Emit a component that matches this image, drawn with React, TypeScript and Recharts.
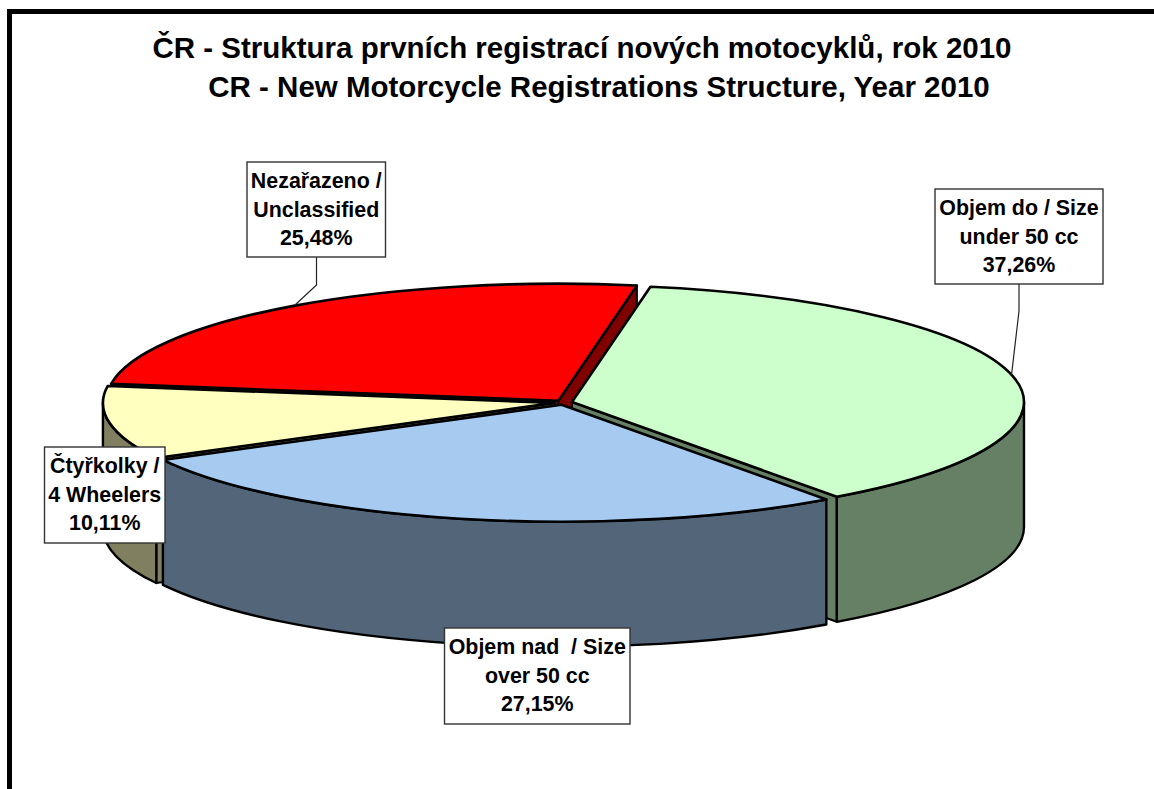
import React from 'react';
import { PieChart, Pie } from 'recharts';

const categories = ['Objem do / Size under 50 cc', 'Objem nad  / Size over 50 cc', 'Čtyřkolky / 4 Wheelers', 'Nezařazeno / Unclassified'];
const firstLines = ['Objem do / Size', 'Objem nad  / Size', 'Čtyřkolky /', 'Nezařazeno /'];
const secondLines = ['under 50 cc', 'over 50 cc', '4 Wheelers', 'Unclassified'];
const shares = [37.26, 27.15, 10.11, 25.48];
const topColors = ['#CCFFCC', '#A6CAF0', '#FFFFC0', '#FF0000'];
const wallColors = ['#668066', '#536578', '#808060', '#800000'];
const titleLines = ['ČR - Struktura prvních registrací nových motocyklů, rok 2010', 'CR - New Motorcycle Registrations Structure, Year 2010'];
const drawOrder = [3, 0, 2, 1];

const FONT = '"Liberation Sans", Arial, sans-serif';
const CX = 563.5;
const CY = 402.5;
const RX = 452;
const TILT = 117 / 452;
const DEPTH = 125;
const EXPLODE = 8.7;
const START = 80;

const total = shares.reduce((a, b) => a + b, 0);
const rows = categories.map((name, i) => {
  const before = shares.slice(0, i).reduce((a, b) => a + b, 0);
  return {
    name,
    value: shares[i],
    index: i,
    start: START - (before / total) * 360,
    end: START - ((before + shares[i]) / total) * 360,
  };
});

const boxes = [
  { x: 935, y: 189, w: 168, h: 95, leader: '1019,284 1019,311 1011.5,375' },
  { x: 444.5, y: 628, w: 185.5, h: 96, leader: '' },
  { x: 44.5, y: 447, w: 120.5, h: 96, leader: '' },
  { x: 247, y: 162, w: 138.5, h: 95, leader: '316.5,257 316.5,285 295,305' },
];

const rad = (d: number) => (d * Math.PI) / 180;

function Slice3D(props: any) {
  const { cx, cy, outerRadius: r, startAngle, endAngle, payload } = props;
  const i = payload.index;
  const mid = (startAngle + endAngle) / 2;
  const ox = cx + EXPLODE * Math.cos(rad(mid));
  const oy = cy - EXPLODE * TILT * Math.sin(rad(mid));
  const px = (a: number) => ox + r * Math.cos(rad(a));
  const py = (a: number) => oy - r * TILT * Math.sin(rad(a));
  const ry = r * TILT;
  const stroke = { stroke: '#000', strokeLinejoin: 'round' as const };

  const face = (a: number) =>
    `M${ox},${oy} L${px(a)},${py(a)} L${px(a)},${py(a) + DEPTH} L${ox},${oy + DEPTH} Z`;
  // a cut face looks at the viewer when its outward normal has a southward part
  const startVisible = Math.sin(rad(startAngle + 90)) < 0;
  const endVisible = Math.sin(rad(endAngle - 90)) < 0;

  // the outer wall only shows on the front half (math angles -180..0)
  let wall = '';
  const spans: [number, number][] = [];
  for (const shift of [0, -360, 360]) {
    const s = Math.min(startAngle + shift, 0);
    const e = Math.max(endAngle + shift, -180);
    if (s > e) spans.push([s, e]);
  }
  spans.forEach(([s, e]) => {
    wall += `M${px(s)},${py(s)} A${r},${ry} 0 0 1 ${px(e)},${py(e)} L${px(e)},${py(e) + DEPTH} A${r},${ry} 0 0 0 ${px(s)},${py(s) + DEPTH} Z`;
  });

  const large = startAngle - endAngle > 180 ? 1 : 0;
  const top = `M${ox},${oy} L${px(startAngle)},${py(startAngle)} A${r},${ry} 0 ${large} 1 ${px(endAngle)},${py(endAngle)} Z`;

  return (
    <g>
      {startVisible && <path d={face(startAngle)} fill={wallColors[i]} {...stroke} strokeWidth={2} />}
      {endVisible && <path d={face(endAngle)} fill={wallColors[i]} {...stroke} strokeWidth={2} />}
      {wall && <path d={wall} fill={wallColors[i]} {...stroke} strokeWidth={2.4} />}
      <path d={top} fill={topColors[i]} {...stroke} strokeWidth={2.6} />
    </g>
  );
}

function CalloutLabel(props: any) {
  const i = props.payload?.index ?? props.index;
  const b = boxes[i];
  const mid = b.x + b.w / 2;
  const lines = [firstLines[i], secondLines[i], `${shares[i].toFixed(2).replace('.', ',')}%`];
  return (
    <g>
      {b.leader && <polyline points={b.leader} fill="none" stroke="#222" strokeWidth={1.2} />}
      <rect x={b.x} y={b.y} width={b.w} height={b.h} fill="#fff" stroke="#333" strokeWidth={1.4} />
      {lines.map((t, k) => (
        <text key={k} x={mid} y={b.y + 26 + k * 28.7} textAnchor="middle" xmlSpace="preserve"
          fontFamily={FONT} fontWeight="bold" fontSize={21.4} fill="#000">{t}</text>
      ))}
    </g>
  );
}

const Hidden = () => <g />;

export default function App() {
  return (
    <div style={{ position: 'absolute', left: 0, top: 0, width: 1154, height: 789, background: '#fff', overflow: 'hidden' }}>
      <PieChart width={1154} height={789} margin={{ top: 0, right: 0, bottom: 0, left: 0 }}>
        <path d="M9.5,800 L9.5,11.5 L1170,11.5" fill="none" stroke="#000" strokeWidth={5} />
        <text x={582} y={58} textAnchor="middle" fontFamily={FONT} fontWeight="bold" fontSize={29.5} fill="#000">{titleLines[0]}</text>
        <text x={599} y={96.5} textAnchor="middle" fontFamily={FONT} fontWeight="bold" fontSize={29.5} fill="#000">{titleLines[1]}</text>
        {drawOrder.map((k) => (
          <Pie key={k} data={[rows[k]]} dataKey="value" nameKey="name" cx={CX} cy={CY} innerRadius={0} outerRadius={RX}
            startAngle={rows[k].start} endAngle={rows[k].end} isAnimationActive={false} shape={Slice3D} label={false} labelLine={false} />
        ))}
        <Pie data={rows} dataKey="value" nameKey="name" cx={CX} cy={CY} innerRadius={0} outerRadius={RX}
          startAngle={START} endAngle={START - 360} isAnimationActive={false} shape={Hidden} fill="none" stroke="none"
          label={CalloutLabel} labelLine={false} />
      </PieChart>
    </div>
  );
}
